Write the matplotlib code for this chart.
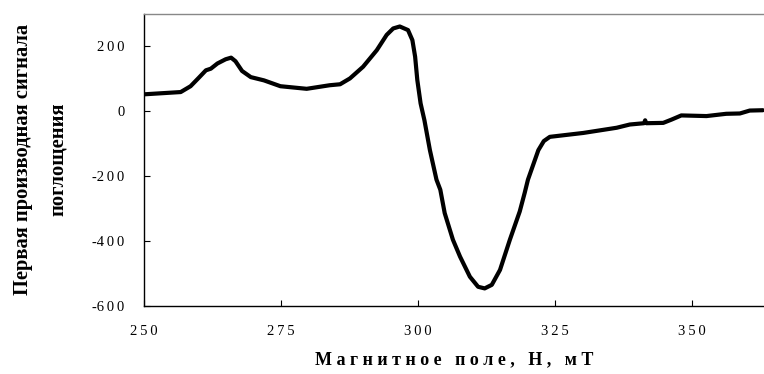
import numpy as np
import matplotlib.pyplot as plt

# EPR spectrum
field = [250.0, 256.7, 258.5, 260.0, 261.3, 262.2, 263.4, 264.9, 265.9, 266.7,
         267.9, 269.5, 271.9, 274.9, 279.7, 283.9, 285.8, 287.6, 290.0, 292.5,
         294.3, 295.5, 296.7, 298.2, 299.0, 299.5, 299.9, 300.5, 301.2, 302.2,
         303.4, 304.1, 304.9, 306.4, 307.7, 309.5, 311.0, 312.2, 313.5, 315.0,
         316.8, 318.6, 319.5, 320.1, 322.0, 323.0, 324.1, 330.2, 336.3, 338.7,
         341.3, 341.5, 341.7, 344.8, 346.3, 348.1, 352.7, 356.3, 358.8, 360.6,
         363.0]
signal = [52, 59, 77, 103, 126, 131, 147, 160, 165, 154,
          124, 105, 95, 77, 69, 80, 83, 101, 137, 188,
          235, 255, 261, 250, 219, 168, 96, 24, -28, -120,
          -211, -242, -314, -396, -448, -510, -541, -546, -535, -489,
          -396, -309, -252, -211, -120, -92, -79, -67, -51, -41,
          -37, -28, -37, -36, -26, -13, -15, -8, -7, 2,
          3]

xticks = [250, 275, 300, 325, 350]
yticks = [-600, -400, -200, 0, 200]

sp = '\u2009'
fig = plt.figure(figsize=(7.64, 3.74), dpi=100)
ax = fig.add_axes([0.1885, 0.182, 0.8115, 0.781])
ax.plot(field, signal, color='black', lw=3.0, solid_capstyle='round', solid_joinstyle='round')

ax.set_xlim(250, 363.2)
ax.set_ylim(-600, 300)
ax.set_xticks(xticks)
ax.set_yticks(yticks)
ax.set_xticklabels([sp.join(str(v)) for v in xticks], family='Liberation Serif', fontsize=10.5)
ax.set_yticklabels([sp.join(str(v)).replace('-' + sp, '-') for v in yticks],
                   family='Liberation Serif', fontsize=10.5)
ax.tick_params(direction='in', length=4, width=0.8)
ax.tick_params(axis='x', pad=14)
ax.tick_params(axis='y', pad=14)

for s in ['left', 'bottom']:
    ax.spines[s].set_linewidth(1.0)
    ax.spines[s].set_color('black')
ax.spines['top'].set_color('#888888')
ax.spines['top'].set_linewidth(1.0)
ax.spines['right'].set_visible(False)

ax.set_xlabel('М а г н и т н о е   п о л е ,   Н ,   м Т',
              family='Liberation Serif', fontweight='bold', fontsize=13, labelpad=9)

fig.text(0.030, 0.575, 'Первая производная сигнала', rotation=90, ha='center', va='center',
         family='Liberation Serif', fontweight='bold', fontsize=14.8)
fig.text(0.076, 0.575, 'поглощения', rotation=90, ha='center', va='center',
         family='Liberation Serif', fontweight='bold', fontsize=14.8)

fig.savefig('out.png', dpi=100)
